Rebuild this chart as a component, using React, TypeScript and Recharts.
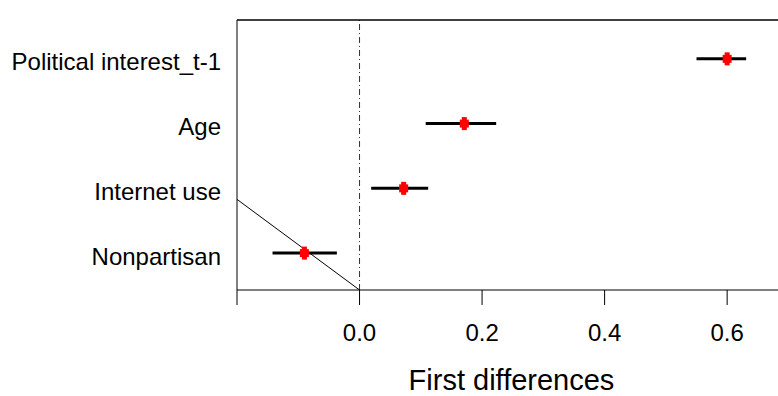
import React from "react";
import {
  ScatterChart,
  Scatter,
  XAxis,
  YAxis,
  ErrorBar,
  ReferenceLine,
} from "recharts";

const labels = ["Nonpartisan", "Internet use", "Age", "Political interest_t-1"];
const rows = [1, 2, 3, 4];
const estimates = [-0.09, 0.072, 0.171, 0.6];
const lower = [-0.142, 0.019, 0.108, 0.55];
const upper = [-0.037, 0.112, 0.223, 0.631];
const xTicks = [-0.2, 0, 0.2, 0.4, 0.6];
// stray diagonal stroke seen in the original figure
const diagonal = [
  { x: -0.2, y: 1.83 },
  { x: 0, y: 0.43 },
];

const points = rows.map((y, i) => ({
  y,
  x: estimates[i],
  err: [estimates[i] - lower[i], upper[i] - estimates[i]],
}));

const FONT = '"Liberation Sans", Arial, sans-serif';

const RedPlus = (props: { cx?: number; cy?: number }) => {
  const { cx = 0, cy = 0 } = props;
  return (
    <g fill="#ff0000">
      <rect x={cx - 2.5} y={cy - 6.5} width={5} height={13} />
      <rect x={cx - 4.5} y={cy - 4} width={9} height={8} />
    </g>
  );
};

const YTick = (props: any) => {
  const { y, payload } = props;
  return (
    <text x={221} y={y + 11.5} textAnchor="end" fontSize={24} fill="#000" fontFamily={FONT}>
      {labels[payload.value - 1]}
    </text>
  );
};

const XTick = (props: any) => {
  const { x, y, payload } = props;
  if (payload.value < -0.1) return null;
  return (
    <text x={x} y={y + 34} textAnchor="middle" fontSize={24} fill="#000" fontFamily={FONT}>
      {payload.value.toFixed(1)}
    </text>
  );
};

export default function App() {
  return (
    <div style={{ position: "absolute", left: 0, top: 0, width: 778, height: 396, background: "#fff" }}>
      <ScatterChart width={778} height={396} margin={{ top: 0, right: 0, bottom: 0, left: 0 }}>
        <XAxis
          xAxisId="top"
          orientation="top"
          type="number"
          dataKey="x"
          domain={[-0.2, 0.683]}
          ticks={xTicks}
          allowDataOverflow
          height={20}
          tickSize={14}
          tick={false}
          stroke="#000"
          strokeWidth={1.3}
        />
        <XAxis
          type="number"
          dataKey="x"
          domain={[-0.2, 0.683]}
          ticks={xTicks}
          allowDataOverflow
          height={106}
          tickSize={15}
          tick={<XTick />}
          stroke="#000"
          label={{
            value: "First differences",
            position: "insideBottom",
            offset: 6,
            dx: 4,
            fontSize: 29,
            fill: "#000",
            fontFamily: FONT,
          }}
        />
        <YAxis
          type="number"
          dataKey="y"
          domain={[0.43, 4.6]}
          ticks={rows}
          allowDataOverflow
          width={237}
          tickLine={false}
          tick={<YTick />}
          stroke="#000"
        />
        <ReferenceLine x={0} stroke="#333" strokeDasharray="6 3 1 3" />
        <Scatter
          data={diagonal}
          line={{ stroke: "#000", strokeWidth: 1 }}
          shape={() => null}
          isAnimationActive={false}
        />
        <Scatter data={points} shape={<RedPlus />} isAnimationActive={false} />
        <Scatter data={points} shape={() => null} isAnimationActive={false}>
          <ErrorBar dataKey="err" direction="x" width={0} stroke="#000" strokeWidth={3} />
        </Scatter>
      </ScatterChart>
    </div>
  );
}
